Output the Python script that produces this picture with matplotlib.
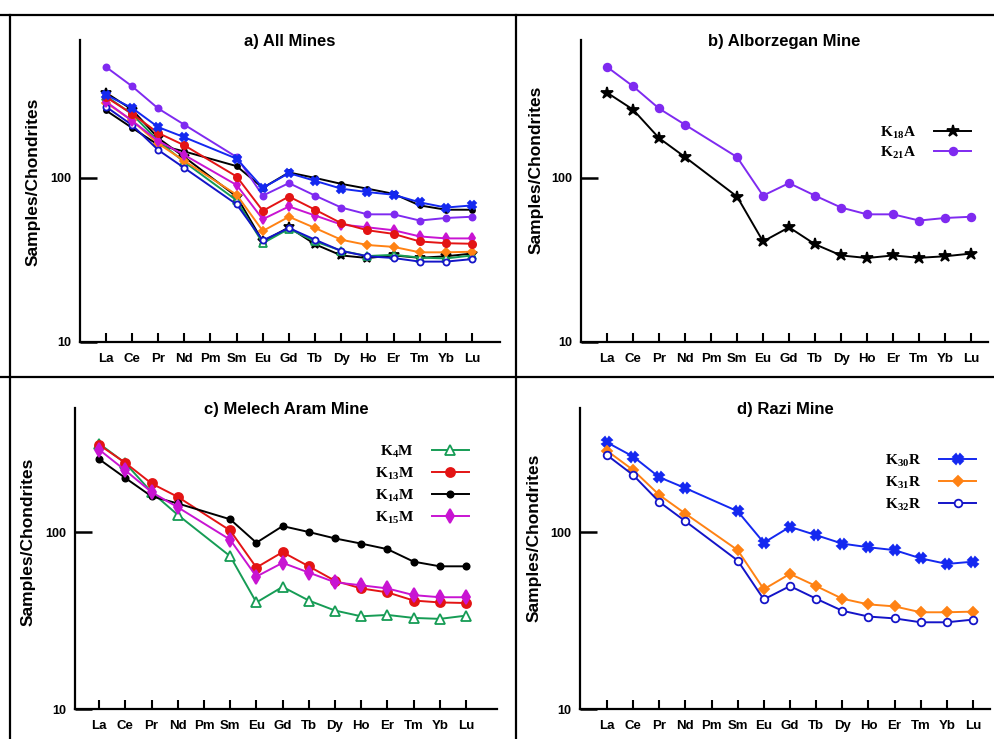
import matplotlib
matplotlib.use('Agg')
import matplotlib.pyplot as plt
from matplotlib.lines import Line2D
import numpy as np

elements = ['La', 'Ce', 'Pr', 'Nd', 'Pm', 'Sm', 'Eu', 'Gd', 'Tb', 'Dy', 'Ho', 'Er', 'Tm', 'Yb', 'Lu']
# Pm is not measured: values below are for every element except Pm
measured = [0, 1, 2, 3, 5, 6, 7, 8, 9, 10, 11, 12, 13, 14]

# Alborzegan
k18a = [331, 261, 175, 134, 77, 41, 50, 39.4, 33.7, 32.5, 33.7, 32.6, 33.3, 34.6]
k21a = [475, 362, 265, 211, 134, 78, 93, 78, 66, 60, 60, 55, 57, 58]
# Melech Aram
k4m = [316, 245, 168, 125, 73, 40, 49, 41, 36, 33.4, 34, 32.7, 32.3, 33.7]
k13m = [311, 246, 188, 158, 102, 63, 77, 64, 53, 48, 45.6, 41, 40, 39.7]
k14m = [258, 202, 159, 145, 118, 87, 108, 100, 92, 86, 80, 68, 64, 64]
k15m = [292, 223, 168, 138, 90.5, 56, 67, 59, 52, 50, 48, 44, 42.8, 42.8]
# Razi
k30r = [321, 267, 204, 177, 131, 87, 107, 96, 86, 82, 79, 71, 66, 68]
k31r = [288, 224, 162, 127, 79, 47.5, 58, 49.5, 42, 39, 38, 35.2, 35.2, 35.5]
k32r = [272, 210, 148, 115, 69, 41.6, 49.5, 42, 35.9, 33.3, 32.5, 30.9, 30.9, 32]

# label, data, colour, marker, marker size, face colour
styles = {
    'K18A': (r'K$_{\mathregular{18}}$A', k18a, 'black', '*', 9, 'black'),
    'K21A': (r'K$_{\mathregular{21}}$A', k21a, '#7f2af0', 'o', 5.5, '#7f2af0'),
    'K4M': (r'K$_{\mathregular{4}}$M', k4m, '#169c55', '^', 6.5, 'white'),
    'K13M': (r'K$_{\mathregular{13}}$M', k13m, '#e31414', 'o', 6.5, '#e31414'),
    'K14M': (r'K$_{\mathregular{14}}$M', k14m, 'black', 'o', 4.5, 'black'),
    'K15M': (r'K$_{\mathregular{15}}$M', k15m, '#c814d2', 'd', 7, '#c814d2'),
    'K30R': (r'K$_{\mathregular{30}}$R', k30r, '#1428f0', 'X', 7, '#1428f0'),
    'K31R': (r'K$_{\mathregular{31}}$R', k31r, '#ff8214', 'D', 5.5, '#ff8214'),
    'K32R': (r'K$_{\mathregular{32}}$R', k32r, '#1414c8', 'o', 5.5, 'white'),
}

plt.rcParams['font.family'] = ['Liberation Sans', 'DejaVu Sans']
plt.rcParams['font.weight'] = 'bold'

W, H = 994, 739
fig = plt.figure(figsize=(W / 100, H / 100), dpi=100)


def px_axes(left, right, top, bottom):
    return fig.add_axes([left / W, 1 - bottom / H, (right - left) / W, (bottom - top) / H])


def setup(ax, title, xlim, ylim, ylab_y):
    ax.set_yscale('log')
    ax.set_xlim(*xlim)
    ax.set_ylim(*ylim)
    for s in ['top', 'right']:
        ax.spines[s].set_visible(False)
    for s in ['left', 'bottom']:
        ax.spines[s].set_linewidth(1.6)
    ax.set_xticks(range(len(elements)))
    ax.set_xticklabels(elements, fontsize=9.5, fontweight='bold')
    ax.tick_params(axis='x', direction='in', length=6.5, width=1.5, pad=8)
    ax.set_yticks([10, 100])
    ax.set_yticklabels(['10', '100'], fontsize=9, fontweight='bold')
    ax.yaxis.set_minor_locator(matplotlib.ticker.NullLocator())
    ax.tick_params(axis='y', direction='in', length=12, width=1.8, pad=6)
    ax.set_ylabel('Samples/Chondrites', fontsize=12.5, fontweight='bold')
    ax.yaxis.set_label_coords(-0.093, ylab_y)
    ax.text(0.5, 0.995, title, transform=ax.transAxes, ha='center', va='center',
            fontsize=12, fontweight='bold')


def draw(ax, keys, small=False):
    for k in keys:
        lab, vals, col, mk, ms, fc = styles[k]
        if small:
            ms = ms * 0.8
        ax.plot(measured, vals, color=col, marker=mk, markersize=ms,
                markerfacecolor=fc, markeredgecolor=col, markeredgewidth=1.3,
                linewidth=1.4, label=lab)


def legend(ax, anchor_px, spacing):
    leg = ax.legend(loc='upper right', bbox_to_anchor=(anchor_px[0] / W, 1 - anchor_px[1] / H),
                    bbox_transform=fig.transFigure, frameon=False, markerfirst=False,
                    handlelength=2.4, handletextpad=1.2, labelspacing=spacing, borderpad=0.1,
                    prop={'family': 'Liberation Serif', 'weight': 'bold', 'size': 11})
    return leg


# a) all mines
ax_a = px_axes(80, 500, 40, 342)
setup(ax_a, 'a) All Mines', (-0.99, 15.07), (10, 693), 0.53)
draw(ax_a, ['K14M', 'K18A', 'K4M', 'K31R', 'K32R', 'K15M', 'K13M', 'K21A', 'K30R'], small=True)

# b) Alborzegan
ax_b = px_axes(581, 988, 40, 342)
setup(ax_b, 'b) Alborzegan Mine', (-1.0, 14.65), (10, 693), 0.57)
draw(ax_b, ['K18A', 'K21A'])
legend(ax_b, (980, 115), 0.25)

# c) Melech Aram
ax_c = px_axes(75, 497, 408, 709)
setup(ax_c, 'c) Melech Aram Mine', (-0.92, 15.18), (10, 502), 0.555)
draw(ax_c, ['K4M', 'K13M', 'K14M', 'K15M'])
legend(ax_c, (478, 434), 0.35)

# d) Razi
ax_d = px_axes(580, 990, 408, 709)
setup(ax_d, 'd) Razi Mine', (-1.03, 14.65), (10, 502), 0.57)
draw(ax_d, ['K30R', 'K31R', 'K32R'])
legend(ax_d, (985, 443), 0.35)

# panel frame lines
for xs, ys in [((0.0, 1.0), (1 - 15 / H,) * 2),
               ((0.0, 1.0), (1 - 377 / H,) * 2),
               ((10 / W,) * 2, (0.0, 1 - 15 / H)),
               ((516 / W,) * 2, (0.0, 1 - 15 / H))]:
    fig.add_artist(Line2D(xs, ys, transform=fig.transFigure, color='black', linewidth=1.6))

fig.savefig('out.png', dpi=100)
